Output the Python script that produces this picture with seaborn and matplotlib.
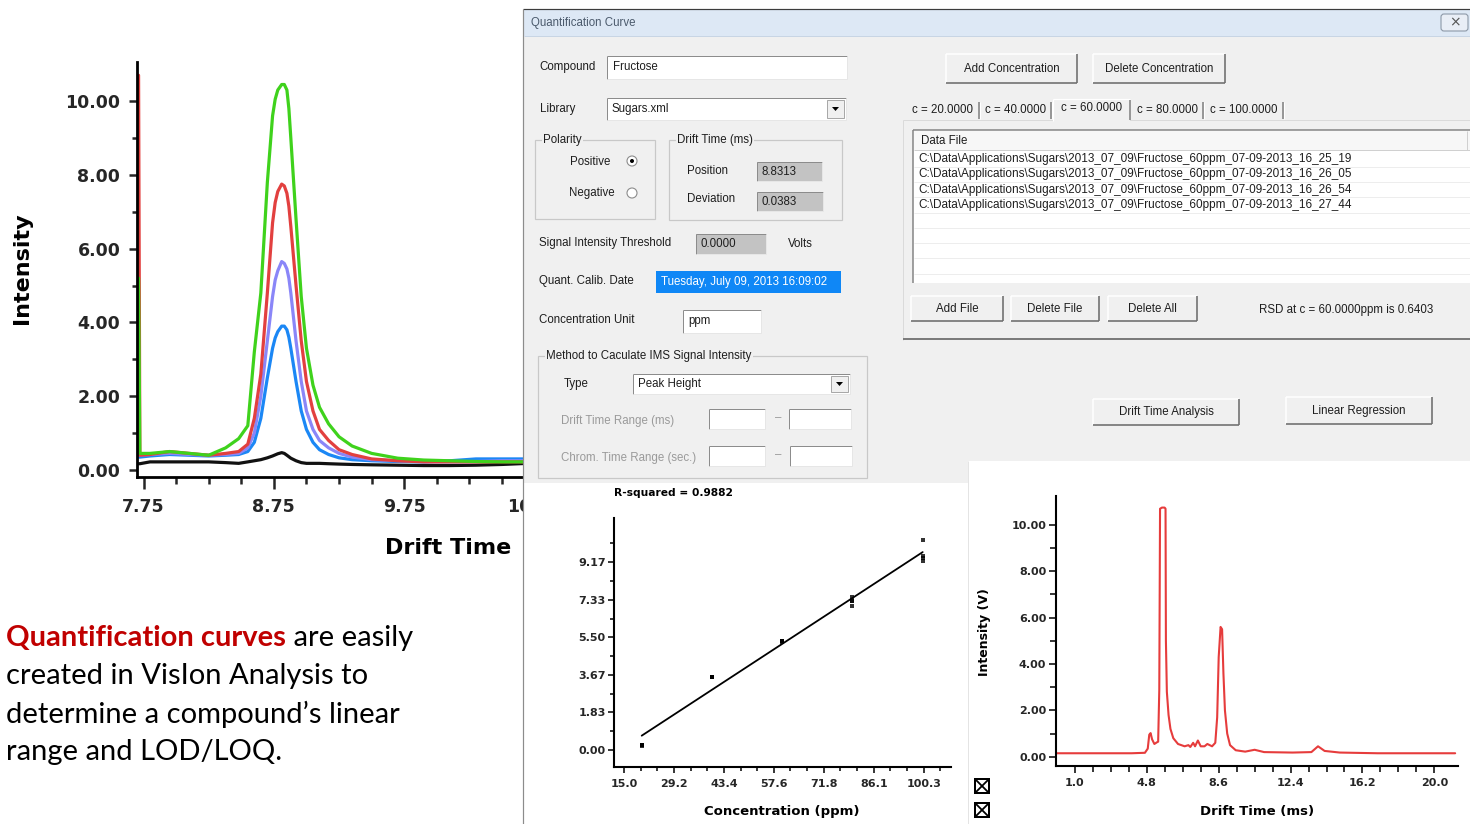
import matplotlib
matplotlib.use("Agg")
import numpy as np
import pandas as pd
import seaborn as sns
import matplotlib.pyplot as plt
from matplotlib.patches import Rectangle, Circle, Polygon, FancyBboxPatch

# ------------------------------------------------------------------ data
# Left panel: overlaid drift-time spectra of the fructose standards
drift_left = [7.712, 7.722, 7.80, 7.95, 8.10, 8.25, 8.38, 8.48, 8.55, 8.60,
              8.65, 8.70, 8.74, 8.76, 8.78, 8.81, 8.83, 8.85, 8.865, 8.88,
              8.92, 8.96, 9.00, 9.05, 9.10, 9.17, 9.25, 9.35, 9.50, 9.70,
              9.90, 10.10, 10.30, 10.50, 10.70, 10.95]
int_20ppm = [0.17, 0.17, 0.22, 0.22, 0.22, 0.22, 0.20, 0.18, 0.22, 0.25,
             0.28, 0.33, 0.38, 0.41, 0.44, 0.47, 0.45, 0.40, 0.36, 0.32,
             0.25, 0.20, 0.18, 0.18, 0.18, 0.17, 0.16, 0.15, 0.14, 0.13,
             0.12, 0.12, 0.13, 0.15, 0.18, 0.18]
int_40ppm = [0.35, 0.35, 0.38, 0.42, 0.40, 0.38, 0.40, 0.42, 0.50, 0.75,
             1.40, 2.50, 3.30, 3.58, 3.75, 3.90, 3.90, 3.80, 3.60, 3.30,
             2.40, 1.60, 1.10, 0.75, 0.55, 0.42, 0.33, 0.28, 0.25, 0.23,
             0.22, 0.25, 0.30, 0.30, 0.30, 0.30]
int_60ppm = [0.40, 0.40, 0.42, 0.45, 0.42, 0.40, 0.42, 0.45, 0.60, 1.00,
             2.00, 3.50, 4.70, 5.15, 5.40, 5.65, 5.60, 5.45, 5.20, 4.80,
             3.50, 2.40, 1.60, 1.10, 0.80, 0.60, 0.45, 0.35, 0.28, 0.25,
             0.22, 0.22, 0.23, 0.25, 0.25, 0.25]
int_80ppm = [10.70, 0.40, 0.42, 0.50, 0.45, 0.40, 0.45, 0.50, 0.70, 1.40,
             2.60, 4.80, 6.70, 7.25, 7.55, 7.75, 7.70, 7.50, 7.15, 6.60,
             5.00, 3.50, 2.40, 1.60, 1.10, 0.80, 0.55, 0.42, 0.30, 0.25,
             0.22, 0.22, 0.22, 0.22, 0.22, 0.22]
int_100ppm = [5.20, 0.45, 0.45, 0.50, 0.45, 0.40, 0.60, 0.85, 1.20, 3.20,
              4.80, 7.80, 9.60, 10.05, 10.30, 10.45, 10.45, 10.30, 9.80, 9.00,
              6.80, 4.70, 3.30, 2.30, 1.70, 1.25, 0.90, 0.65, 0.45, 0.32,
              0.27, 0.25, 0.23, 0.22, 0.22, 0.22]
left_series = ['20 ppm', '40 ppm', '60 ppm', '80 ppm', '100 ppm']
left_colors = ['#111111', '#1b87f5', '#8a86f8', '#e2403f', '#3fd21c']
left_xticks = [7.75, 8.75, 9.75, 10.75]
left_yticks = [0, 2, 4, 6, 8, 10]

# Bottom middle: calibration points and linear regression
conc_ppm = [20, 20, 20, 20, 40, 40, 40, 40, 60, 60, 60, 60,
            80, 80, 80, 80, 100, 100, 100, 100]
response = [0.22, 0.22, 0.23, 0.21, 3.55, 3.55, 3.56, 3.54,
            5.30, 5.32, 5.28, 5.30, 7.05, 7.25, 7.45, 7.25,
            10.25, 9.45, 9.22, 9.35]
reg_xticks = [15.0, 29.2, 43.4, 57.6, 71.8, 86.1, 100.3]
reg_yticks = [0.00, 1.83, 3.67, 5.50, 7.33, 9.17]
r_squared = 0.9882

# Bottom right: full drift spectrum
drift_full = [0.0, 2.0, 4.0, 4.70, 4.85, 4.93, 5.00, 5.08, 5.20, 5.33,
              5.40, 5.46, 5.50, 5.60, 5.74, 5.79, 5.81, 5.86, 5.95, 6.05,
              6.20, 6.45, 6.80, 7.00, 7.10, 7.25, 7.35, 7.50, 7.65, 7.85,
              8.00, 8.25, 8.42, 8.52, 8.60, 8.70, 8.78, 8.85, 8.93, 9.05,
              9.20, 9.50, 10.00, 10.50, 11.00, 12.50, 13.50, 13.85, 14.20, 15.00,
              17.00, 19.00, 21.10]
int_full = [0.15, 0.15, 0.15, 0.17, 0.35, 0.95, 1.02, 0.75, 0.55, 0.62,
            0.65, 2.90, 10.70, 10.75, 10.75, 10.70, 5.00, 2.80, 1.80, 1.20,
            0.80, 0.55, 0.45, 0.50, 0.42, 0.60, 0.45, 0.70, 0.45, 0.45,
            0.55, 0.45, 0.60, 1.70, 4.30, 5.60, 5.50, 3.60, 2.00, 1.00,
            0.50, 0.28, 0.22, 0.30, 0.20, 0.18, 0.20, 0.45, 0.25, 0.18,
            0.15, 0.15, 0.15]
full_xticks = [1.0, 4.8, 8.6, 12.4, 16.2, 20.0]
full_yticks = [0, 2, 4, 6, 8, 10]

# Dialog content
tab_labels = ['c = 20.0000', 'c = 40.0000', 'c = 60.0000', 'c = 80.0000', 'c = 100.0000']
data_files = [
    'C:\\Data\\Applications\\Sugars\\2013_07_09\\Fructose_60ppm_07-09-2013_16_25_19',
    'C:\\Data\\Applications\\Sugars\\2013_07_09\\Fructose_60ppm_07-09-2013_16_26_05',
    'C:\\Data\\Applications\\Sugars\\2013_07_09\\Fructose_60ppm_07-09-2013_16_26_54',
    'C:\\Data\\Applications\\Sugars\\2013_07_09\\Fructose_60ppm_07-09-2013_16_27_44',
]
paragraph = ['created in VisIon Analysis to',
             'determine a compound\u2019s linear',
             'range and LOD/LOQ.']

# ------------------------------------------------------------------ setup
W, H = 1470, 824
PX = 0.72  # points per pixel at dpi 100
sns.set_style('ticks')
plt.rcParams['font.family'] = ['DejaVu Sans']
BOLD = ['DejaVu Sans']
GUI = ['Liberation Sans', 'DejaVu Sans']
PARA = ['Lato', 'DejaVu Sans']
BG = '#f0f0f0'

fig = plt.figure(figsize=(W / 100, H / 100), dpi=100, facecolor='white')


def fb(x0, y0, x1, y1):
    return [x0 / W, 1 - y1 / H, (x1 - x0) / W, (y1 - y0) / H]


ax_left = fig.add_axes(fb(137, 62, 560, 477))
ax_left.set_zorder(1)
ax_px = fig.add_axes([0, 0, 1, 1])
ax_px.set_zorder(2)
ax_px.set_xlim(0, W)
ax_px.set_ylim(H, 0)
ax_px.axis('off')
ax_reg = fig.add_axes(fb(614, 518, 951, 767))
ax_reg.set_zorder(3)
ax_full = fig.add_axes(fb(1056, 496, 1458, 766))
ax_full.set_zorder(3)


def style_spines(ax, lw):
    for s in ['top', 'right']:
        ax.spines[s].set_visible(False)
    for s in ['left', 'bottom']:
        ax.spines[s].set_linewidth(lw)
        ax.spines[s].set_color('black')
    ax.set_xlabel('')
    ax.set_ylabel('')


# ------------------------------------------------------------------ left plot
n = len(drift_left)
left_df = pd.DataFrame({
    'Drift Time': drift_left * 5,
    'Intensity': int_20ppm + int_40ppm + int_60ppm + int_80ppm + int_100ppm,
    'Standard': sum([[s] * n for s in left_series], []),
})
sns.lineplot(data=left_df, x='Drift Time', y='Intensity', hue='Standard',
             hue_order=left_series, palette=left_colors, sort=False,
             estimator=None, legend=False, lw=2.3, ax=ax_left)
for ln in ax_left.get_lines():
    ln.set_solid_joinstyle('round')
ax_left.set_facecolor('white')
ax_left.set_xlim(7.700, 10.945)
ax_left.set_ylim(-0.19, 11.06)
style_spines(ax_left, 2.0)
ax_left.set_xticks(left_xticks, labels=[f'{v:.2f}' for v in left_xticks],
                   fontsize=12.5, fontweight='bold', family=BOLD)
ax_left.set_xticks(np.arange(7.75, 10.9, 0.25), minor=True)
ax_left.set_yticks(left_yticks, labels=[f'{v:.2f}' for v in left_yticks],
                   fontsize=12.5, fontweight='bold', family=BOLD)
ax_left.set_yticks(np.arange(1, 11, 2), minor=True)
ax_left.tick_params(axis='x', which='major', length=8.5, width=1.8, pad=6.5)
ax_left.tick_params(axis='x', which='minor', length=5, width=1.8)
ax_left.tick_params(axis='y', which='major', length=6, width=1.8, pad=6)
ax_left.tick_params(axis='y', which='minor', length=3.5, width=1.8)


# ------------------------------------------------------------------ pixel helpers
def L(x0, y0, x1, y1, c, lw=1.0, z=5):
    ax_px.plot([x0, x1], [y0, y1], color=c, lw=lw * PX, zorder=z,
               solid_capstyle='butt')


def R(x0, y0, x1, y1, fc, ec='none', lw=1.0, z=3):
    ax_px.add_patch(Rectangle((x0, y0), x1 - x0, y1 - y0, facecolor=fc,
                              edgecolor=ec, lw=lw * PX, zorder=z))


def T(x, y, s, size=8.3, color='#1e1e1e', ha='left', va='center',
      weight='normal', family=GUI, z=8, **kw):
    return ax_px.text(x, y, s, fontsize=size, color=color, ha=ha, va=va,
                      fontweight=weight, family=family, zorder=z, **kw)


def sunken(x0, y0, x1, y1, fc='white'):
    R(x0, y0, x1, y1, fc)
    L(x0, y0, x1, y0, '#8c8c8c')
    L(x0, y0, x0, y1, '#8c8c8c')
    L(x0, y1, x1, y1, '#e6e6e6')
    L(x1, y0, x1, y1, '#e6e6e6')


def button(x0, y0, x1, y1, label):
    R(x0, y0, x1, y1, '#f0f0f0')
    L(x0, y0, x1, y0, '#ffffff', 1.5)
    L(x0, y0, x0, y1, '#ffffff', 1.5)
    L(x0, y1, x1, y1, '#6e6e6e', 1.6)
    L(x1, y0, x1, y1, '#6e6e6e', 1.6)
    T((x0 + x1) / 2, (y0 + y1) / 2, label, ha='center')


def group(x0, y0, x1, y1, label, lx):
    R(x0, y0, x1, y1, 'none', ec='#c8c8c8', lw=1.2, z=4)
    T(lx, y0, label, bbox=dict(fc=BG, ec='none', pad=0.8))


def combo(x0, y0, x1, y1, label):
    sunken(x0, y0, x1, y1)
    T(x0 + 5, (y0 + y1) / 2, label)
    R(x1 - 19, y0 + 2, x1 - 2, y1 - 2, '#f0f0f0', ec='#a8a8a8', z=6)
    ym = (y0 + y1) / 2
    ax_px.add_patch(Polygon([[x1 - 14, ym - 2], [x1 - 7, ym - 2], [x1 - 10.5, ym + 2]],
                            closed=True, fc='black', ec='none', zorder=8))


def radio(x, y, on):
    ax_px.add_patch(Circle((x, y), 5, fc='white', ec='#8c8c8c', lw=0.8, zorder=6))
    if on:
        ax_px.add_patch(Circle((x, y), 2, fc='black', ec='none', zorder=7))


# ------------------------------------------------------------------ dialog
R(523, 9, 1470, 461, BG, z=1)
R(523, 461, 968, 483, BG, z=1)
R(523, 483, 968, 824, 'white', z=1)
R(968, 461, 1470, 824, 'white', z=1)
L(968, 461, 968, 824, '#e4e4e4')
R(524, 10, 1470, 36, '#dde8f5', z=2)
L(523, 9, 1470, 9, '#3c3c3c', 1.2)
L(523, 9, 523, 824, '#8c8c8c', 1.2)
L(524, 36, 1470, 36, '#c8d5e4')
T(531, 23, 'Quantification Curve', size=8.3, color='#4b5a6c')
ax_px.add_patch(FancyBboxPatch((1441, 14), 27, 17,
                               boxstyle='round,pad=0,rounding_size=3',
                               fc='#e9eef6', ec='#8d99a8', lw=0.8, zorder=5))
T(1454.5, 22.5, '\u00d7', size=10, color='#555555', ha='center', family=BOLD)

# left column
T(539, 67, 'Compound')
sunken(607, 56, 847, 79)
T(613, 67, 'Fructose')
T(540, 109, 'Library')
combo(607, 98, 846, 120, 'Sugars.xml')
group(535, 140, 655, 219, 'Polarity', 543)
T(570, 162, 'Positive')
radio(632, 161, True)
T(569, 193, 'Negative')
radio(632, 193, False)
group(669, 140, 842, 220, 'Drift Time (ms)', 677)
T(687, 171, 'Position')
sunken(757, 162, 822, 181, '#c3c3c3')
T(762, 172, '8.8313')
T(687, 199, 'Deviation')
sunken(757, 192, 823, 211, '#c3c3c3')
T(762, 202, '0.0383')
T(539, 243, 'Signal Intensity Threshold')
sunken(696, 234, 766, 254, '#c3c3c3')
T(701, 244, '0.0000')
T(788, 244, 'Volts')
T(539, 281, 'Quant. Calib. Date')
R(656, 271, 841, 293, '#0f87f6')
T(661, 282, 'Tuesday, July 09, 2013 16:09:02', color='white')
T(539, 320, 'Concentration Unit')
sunken(683, 310, 761, 333)
T(688, 321, 'ppm')
group(538, 356, 867, 478, 'Method to Caculate IMS Signal Intensity', 546)
T(564, 384, 'Type')
combo(633, 374, 850, 394, 'Peak Height')
T(561, 421, 'Drift Time Range (ms)', color='#9a9a9a')
sunken(709, 409, 765, 429)
T(775, 418, '\u2013', color='#9a9a9a')
sunken(789, 409, 851, 429)
T(561, 458, 'Chrom. Time Range (sec.)', color='#9a9a9a')
sunken(709, 446, 765, 466)
T(775, 455, '\u2013', color='#9a9a9a')
sunken(790, 446, 852, 466)

# right column
button(946, 54, 1077, 83, 'Add Concentration')
button(1093, 54, 1225, 83, 'Delete Concentration')
# tab panel
R(903, 120, 1470, 340, BG, z=2)
L(903, 120, 1470, 120, '#dadada')
L(903, 120, 903, 340, '#dadada')
L(903, 339, 1470, 339, '#7c7c7c', 2)
tab_edges = [905, 979, 1051, 1130, 1203, 1283]
for i, lab in enumerate(tab_labels):
    xa, xb = tab_edges[i], tab_edges[i + 1]
    if i == 2:
        R(xa + 2, 99, xb, 121, BG, z=6)
        L(xa + 2, 99, xb, 99, '#ffffff', 1.2, z=7)
        L(xa + 2, 99, xa + 2, 121, '#ffffff', 1.2, z=7)
        L(xb, 100, xb, 120, '#7c7c7c', 1.5, z=7)
        T((xa + xb) / 2 + 1, 108, lab, ha='center')
    else:
        L(xb, 102, xb, 119, '#7c7c7c', 1.5)
        L(xb + 1.5, 102, xb + 1.5, 119, '#ffffff', 1.0)
        T((xa + xb) / 2 + 1, 110, lab, ha='center')
# list box
R(913, 130, 1470, 283, 'white', z=4)
L(913, 130, 1470, 130, '#828282', 1.5)
L(913, 130, 913, 283, '#828282', 1.5)
R(914, 131, 1470, 150, '#f7f7f7', z=5)
L(914, 150, 1470, 150, '#d0d0d0')
L(1467, 131, 1467, 150, '#d0d0d0')
T(921, 141, 'Data File')
for k in range(8):
    L(914, 166.6 + 15.3 * k, 1470, 166.6 + 15.3 * k, '#ededed', 1.0)
renderer = fig.canvas.get_renderer()


def wpx(t):
    return t.get_window_extent(renderer=renderer).width


probe = T(918, 159, data_files[0], size=8.0)
fsize = 8.0 * 436 / wpx(probe)
probe.remove()
for k, f in enumerate(data_files):
    T(918, 159 + 15.3 * k, f, size=fsize)
button(911, 296, 1003, 321, 'Add File')
button(1011, 296, 1099, 321, 'Delete File')
button(1108, 296, 1197, 321, 'Delete All')
T(1259, 310, 'RSD at c = 60.0000ppm is 0.6403')
button(1093, 399, 1239, 425, 'Drift Time Analysis')
button(1286, 397, 1432, 424, 'Linear Regression')

# ------------------------------------------------------------------ left labels & paragraph
T(22, 268, 'Intensity', size=16, weight='bold', family=BOLD, rotation=90,
  ha='center', color='black')
T(448, 548, 'Drift Time', size=16, weight='bold', family=BOLD, ha='center',
  color='black')

pr = T(6, 676, paragraph[0], size=20, family=PARA, color='black')
psize = 20 * 362 / wpx(pr)
pr.set_fontsize(psize)
t1 = T(6, 638, 'Quantification curves', size=psize, weight='bold',
       family=PARA, color='#c00000')
T(6 + wpx(t1), 638, ' are easily', size=psize, family=PARA, color='black')
T(6, 714, paragraph[1], size=psize, family=PARA, color='black')
T(6, 752, paragraph[2], size=psize, family=PARA, color='black')

# ------------------------------------------------------------------ regression plot
sns.regplot(x=conc_ppm, y=response, ci=None, marker='s', color='black',
            scatter_kws={'s': 9, 'linewidths': 0}, line_kws={'lw': 1.3},
            ax=ax_reg)
ax_reg.set_facecolor('none')
ax_reg.set_xlim(12.11, 108.06)
ax_reg.set_ylim(-0.83, 11.32)
style_spines(ax_reg, 1.5)
ax_reg.set_xticks(reg_xticks, labels=[f'{v:.1f}' for v in reg_xticks],
                  fontsize=8, fontweight='bold', family=BOLD)
xminor = []
for a, b in zip(reg_xticks[:-1], reg_xticks[1:]):
    xminor += list(np.linspace(a, b, 4)[1:3])
xminor.append(reg_xticks[-1] + (reg_xticks[-1] - reg_xticks[-2]) / 3)
ax_reg.set_xticks(xminor, minor=True)
ax_reg.set_yticks(reg_yticks, labels=[f'{v:.2f}' for v in reg_yticks],
                  fontsize=8, fontweight='bold', family=BOLD)
yminor = [(a + b) / 2 for a, b in zip(reg_yticks[:-1], reg_yticks[1:])]
yminor.append(reg_yticks[-1] + (reg_yticks[1] - reg_yticks[0]) / 2)
ax_reg.set_yticks(yminor, minor=True)
ax_reg.tick_params(axis='both', which='major', length=4.5, width=1.3, pad=1.5)
ax_reg.tick_params(axis='both', which='minor', length=3, width=1.3)
ax_reg.tick_params(axis='x', which='major', pad=4)
T(614, 493, f'R-squared = {r_squared:.4f}', size=7.7, weight='bold',
  family=BOLD, color='black')
T(782, 811, 'Concentration (ppm)', size=9.5, weight='bold', family=BOLD,
  ha='center', color='black')

# ------------------------------------------------------------------ full spectrum plot
sns.lineplot(x=drift_full, y=int_full, color='#e63c3c', lw=1.5, sort=False,
             estimator=None, ax=ax_full)
ax_full.set_facecolor('none')
ax_full.set_xlim(0.0, 21.25)
ax_full.set_ylim(-0.40, 11.25)
style_spines(ax_full, 1.5)
ax_full.set_xticks(full_xticks, labels=[f'{v:.1f}' for v in full_xticks],
                   fontsize=8, fontweight='bold', family=BOLD)
fx_minor = [full_xticks[0] + 0.95 * k for k in range(1, 21)]
ax_full.set_xticks(fx_minor, minor=True)
ax_full.set_yticks(full_yticks, labels=[f'{v:.2f}' for v in full_yticks],
                   fontsize=8, fontweight='bold', family=BOLD)
ax_full.set_yticks([1, 3, 5, 7, 9], minor=True)
ax_full.tick_params(axis='both', which='major', length=5, width=1.3, pad=2)
ax_full.tick_params(axis='both', which='minor', length=4, width=1.3)
ax_full.tick_params(axis='x', which='major', pad=4)
T(985, 632, 'Intensity (V)', size=9, weight='bold', family=BOLD,
  rotation=90, ha='center', color='black')
T(1257, 811, 'Drift Time (ms)', size=9.5, weight='bold', family=BOLD,
  ha='center', color='black')

# checkboxes next to the spectrum
for yc in (786, 810):
    R(975, yc - 7, 989, yc + 7, 'white', ec='black', lw=2, z=6)
    L(975, yc - 7, 989, yc + 7, 'black', 1.8, z=7)
    L(975, yc + 7, 989, yc - 7, 'black', 1.8, z=7)

fig.savefig('out.png', dpi=100, facecolor='white')
